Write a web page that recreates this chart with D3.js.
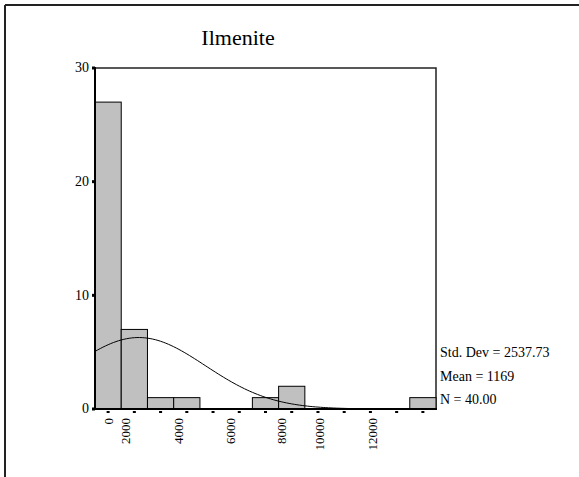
<!DOCTYPE html>
<html><head><meta charset="utf-8">
<script src="https://cdn.jsdelivr.net/npm/d3@7"></script>
<style>body{margin:0;background:#fff}svg{display:block}text{font-family:"Liberation Serif","Times New Roman",serif;fill:#000}</style>
</head><body>
<script>
// ---- data ----
const title = "Ilmenite";
const binCenters = [0,1000,2000,3000,4000,5000,6000,7000,8000,9000,10000,11000,12000];
const counts     = [27,7,1,1,0,0,1,2,0,0,0,0,1];
const binWidth = 1000;
const yTicks = [0,10,20,30];
const xTickLabels = ["0","2000","4000","6000","8000","10000","12000"];
const xTickLabelAt = [0,650,2680,4650,6620,8050,10090]; // where SPSS printed them (data units)
const stats = {sd: 2537.73, mean: 1169, n: 40};
const statLines = ["Std. Dev = 2537.73","Mean = 1169","N = 40.00"];

// ---- layout ----
const W=579,H=477;
const L=95,R=436,T=68,B=409;
const svg=d3.select("body").append("svg").attr("width",W).attr("height",H);

// outer frame (top & left only visible)
svg.append("line").attr("x1",5).attr("x2",W).attr("y1",5).attr("y2",5).attr("stroke","#222").attr("stroke-width",2);
svg.append("line").attr("x1",5).attr("x2",5).attr("y1",5).attr("y2",H).attr("stroke","#222").attr("stroke-width",2);

const x=d3.scaleLinear().domain([binCenters[0]-binWidth/2, binCenters[binCenters.length-1]+binWidth/2]).range([L,R]);
const y=d3.scaleLinear().domain([0,30]).range([B,T]);

// title
svg.append("text").attr("x",238).attr("y",45).attr("text-anchor","middle").attr("font-size",22).text(title);

// top/right frame of plot
svg.append("path").attr("d",`M${L},${T}H${R}V${B}`).attr("fill","none").attr("stroke","#222").attr("stroke-width",1.5);

// bars
svg.append("g").selectAll("rect").data(binCenters.map((c,i)=>({c,v:counts[i]})).filter(d=>d.v>0))
 .join("rect")
 .attr("x",d=>x(d.c-binWidth/2)).attr("width",d=>x(d.c+binWidth/2)-x(d.c-binWidth/2))
 .attr("y",d=>y(d.v)).attr("height",d=>y(0)-y(d.v))
 .attr("fill","#c0c0c0").attr("stroke","#000").attr("stroke-width",1);

// normal curve
const pdf=v=>Math.exp(-0.5*Math.pow((v-stats.mean)/stats.sd,2))/(stats.sd*Math.sqrt(2*Math.PI));
const curveX=d3.range(-500,9501,100);
svg.append("path").datum(curveX)
 .attr("d",d3.line().x(v=>x(v)).y(v=>y(stats.n*binWidth*pdf(v))))
 .attr("fill","none").attr("stroke","#000").attr("stroke-width",1);

// axes lines
svg.append("line").attr("x1",L).attr("x2",L).attr("y1",T-1).attr("y2",B+1).attr("stroke","#000").attr("stroke-width",2);
svg.append("line").attr("x1",L-1).attr("x2",R+1).attr("y1",B).attr("y2",B).attr("stroke","#000").attr("stroke-width",2);

// y ticks
const yg=svg.append("g");
yg.selectAll("rect").data(yTicks).join("rect").attr("x",L-3).attr("y",d=>y(d)-1.5).attr("width",3).attr("height",3).attr("fill","#000");
yg.selectAll("text").data(yTicks).join("text").attr("x",L-6).attr("y",d=>y(d)).attr("dy","0.32em").attr("text-anchor","end").attr("font-size",14).text(d=>d);

// x ticks
svg.append("g").selectAll("rect").data(binCenters).join("rect")
 .attr("x",d=>x(d)-1.5).attr("y",B+2).attr("width",3).attr("height",2).attr("fill","#000");
svg.append("g").selectAll("text").data(xTickLabels).join("text")
 .attr("transform",(d,i)=>`translate(${x(xTickLabelAt[i])},418) rotate(-90)`)
 .attr("dy","0.35em").attr("text-anchor","end").attr("font-size",13).text(d=>d);

// stats
svg.append("g").selectAll("text").data(statLines).join("text")
 .attr("x",440).attr("y",(d,i)=>357+i*23.5).attr("font-size",14).text(d=>d);
</script>
</body></html>
